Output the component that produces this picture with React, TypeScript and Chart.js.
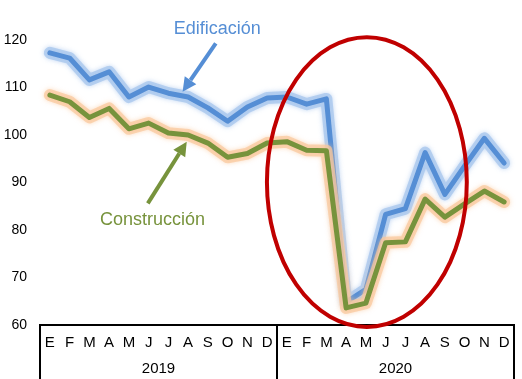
import React, { useEffect, useRef } from "react";
import { Chart, registerables } from "chart.js";

Chart.register(...registerables);

const months = ["E", "F", "M", "A", "M", "J", "J", "A", "S", "O", "N", "D", "E", "F", "M", "A", "M", "J", "J", "A", "S", "O", "N", "D"];
const years = ["2019", "2020"];
const categories = months.map((m, i) => `${m}-${years[Math.floor(i / 12)]}`);

const edificacion = [117.3, 116.2, 111.6, 113.3, 108.0, 110.1, 108.8, 108.0, 105.7, 102.9, 105.9, 107.8, 108.0, 106.5, 107.6, 64.8, 67.5, 83.3, 84.5, 96.3, 87.5, 93.5, 99.3, 94.1];
const construccion = [108.4, 107.0, 103.7, 105.6, 101.3, 102.5, 100.4, 100.0, 98.3, 95.3, 96.1, 98.3, 98.6, 96.8, 96.7, 63.6, 64.6, 77.3, 77.5, 86.5, 82.7, 85.5, 88.2, 85.9];

const BLUE = "#558ed5";
const GREEN = "#77933c";
const FONT = '"Liberation Sans", Arial, sans-serif';

// annotations in data units (category index, value)
const labelEdif = { text: "Edificación", x: 8.48, y: 122.4 };
const arrowEdif = { from: [8.4, 119.3], to: [6.72, 109.1] };
const labelCons = { text: "Construcción", x: 5.2, y: 82.0 };
const arrowCons = { from: [4.96, 85.6], to: [6.93, 98.6] };
const ellipse = { cx: 16.05, cy: 90.1, rx: 5.06, ry: 30.5 };

const glowPlugin = {
  id: "glow",
  beforeDatasetDraw(chart: any, args: any) {
    const ds = chart.data.datasets[args.index];
    const ctx = chart.ctx;
    ctx.save();
    if (ds.glowColor) {
      ctx.shadowColor = ds.glowColor;
      ctx.shadowBlur = 5;
    }
  },
  afterDatasetDraw(chart: any) {
    chart.ctx.restore();
  },
};

function drawArrow(ctx: any, x1: number, y1: number, x2: number, y2: number, color: string) {
  const ang = Math.atan2(y2 - y1, x2 - x1);
  const hl = 14;
  const hw = 7;
  const bx = x2 - hl * Math.cos(ang);
  const by = y2 - hl * Math.sin(ang);
  ctx.strokeStyle = color;
  ctx.fillStyle = color;
  ctx.lineWidth = 4;
  ctx.lineCap = "butt";
  ctx.beginPath();
  ctx.moveTo(x1, y1);
  ctx.lineTo(bx, by);
  ctx.stroke();
  ctx.beginPath();
  ctx.moveTo(x2, y2);
  ctx.lineTo(bx + hw * Math.sin(ang), by - hw * Math.cos(ang));
  ctx.lineTo(bx - hw * Math.sin(ang), by + hw * Math.cos(ang));
  ctx.closePath();
  ctx.fill();
}

const decorPlugin = {
  id: "decor",
  afterDraw(chart: any) {
    const ctx = chart.ctx;
    const xs = chart.scales.x;
    const ys = chart.scales.y;
    const ca = chart.chartArea;
    const H = chart.height;
    ctx.save();
    // axis box
    ctx.strokeStyle = "#000";
    ctx.lineWidth = 2;
    ctx.beginPath();
    ctx.moveTo(xs.getPixelForValue(-0.5) - 1, ca.bottom);
    ctx.lineTo(xs.getPixelForValue(23.5) + 1, ca.bottom);
    [-0.5, 11.5, 23.5].forEach((v) => {
      const px = Math.round(xs.getPixelForValue(v));
      ctx.moveTo(px, ca.bottom);
      ctx.lineTo(px, H);
    });
    ctx.stroke();
    // month labels
    ctx.fillStyle = "#000";
    ctx.font = `15px ${FONT}`;
    ctx.textAlign = "center";
    ctx.textBaseline = "middle";
    months.forEach((m, i) => {
      ctx.fillText(m, xs.getPixelForValue(i), ca.bottom + 18);
    });
    years.forEach((y, k) => {
      ctx.fillText(y, xs.getPixelForValue(k * 12 + 5.5), ca.bottom + 44);
    });
    // ellipse
    const ecx = xs.getPixelForValue(ellipse.cx);
    const ecy = ys.getPixelForValue(ellipse.cy);
    const erx = Math.abs(xs.getPixelForValue(ellipse.cx + ellipse.rx) - ecx);
    const ery = Math.abs(ys.getPixelForValue(ellipse.cy + ellipse.ry) - ecy);
    ctx.strokeStyle = "#c00000";
    ctx.lineWidth = 4;
    ctx.beginPath();
    ctx.ellipse(ecx, ecy, erx, ery, 0, 0, Math.PI * 2);
    ctx.stroke();
    // arrows
    drawArrow(ctx, xs.getPixelForValue(arrowEdif.from[0]), ys.getPixelForValue(arrowEdif.from[1]), xs.getPixelForValue(arrowEdif.to[0]), ys.getPixelForValue(arrowEdif.to[1]), BLUE);
    drawArrow(ctx, xs.getPixelForValue(arrowCons.from[0]), ys.getPixelForValue(arrowCons.from[1]), xs.getPixelForValue(arrowCons.to[0]), ys.getPixelForValue(arrowCons.to[1]), GREEN);
    // labels
    ctx.font = `18px ${FONT}`;
    ctx.fillStyle = BLUE;
    ctx.fillText(labelEdif.text, xs.getPixelForValue(labelEdif.x), ys.getPixelForValue(labelEdif.y));
    ctx.fillStyle = GREEN;
    ctx.fillText(labelCons.text, xs.getPixelForValue(labelCons.x), ys.getPixelForValue(labelCons.y));
    ctx.restore();
  },
};

export default function App() {
  const ref = useRef<HTMLCanvasElement>(null);
  useEffect(() => {
    if (!ref.current) return;
    const common = { pointRadius: 0, tension: 0, borderJoinStyle: "round", borderCapStyle: "round" };
    const chart = new Chart(ref.current, {
      type: "line",
      data: {
        labels: categories,
        datasets: [
          { ...common, label: "Edificación glow", data: edificacion, borderColor: "rgba(170,200,238,0.8)", borderWidth: 12, glowColor: "rgba(170,200,238,0.9)", order: 3 } as any,
          { ...common, label: "Edificación", data: edificacion, borderColor: BLUE, borderWidth: 5, order: 2 } as any,
          { ...common, label: "Construcción glow", data: construccion, borderColor: "rgba(250,200,155,0.7)", borderWidth: 12, glowColor: "rgba(250,200,155,0.9)", order: 1 } as any,
          { ...common, label: "Construcción", data: construccion, borderColor: GREEN, borderWidth: 5, order: 0 } as any,
        ],
      },
      options: {
        responsive: false,
        animation: false,
        devicePixelRatio: 1,
        layout: { padding: { top: 40, bottom: 54, left: 0, right: 8 } },
        plugins: { legend: { display: false }, tooltip: { enabled: false } },
        scales: {
          x: { type: "category", display: false, offset: true },
          y: {
            min: 60,
            max: 120,
            grid: { display: false, drawTicks: false },
            border: { display: false },
            ticks: { stepSize: 10, padding: 13, color: "#000", font: { family: FONT, size: 14 } },
            afterFit: (s: any) => { s.width = 40; },
          },
        },
      },
      plugins: [glowPlugin, decorPlugin],
    });
    return () => chart.destroy();
  }, []);
  return (
    <div style={{ position: "absolute", left: 0, top: 0, width: 522, height: 379, background: "#fff" }}>
      <canvas ref={ref} width={522} height={379} />
    </div>
  );
}
